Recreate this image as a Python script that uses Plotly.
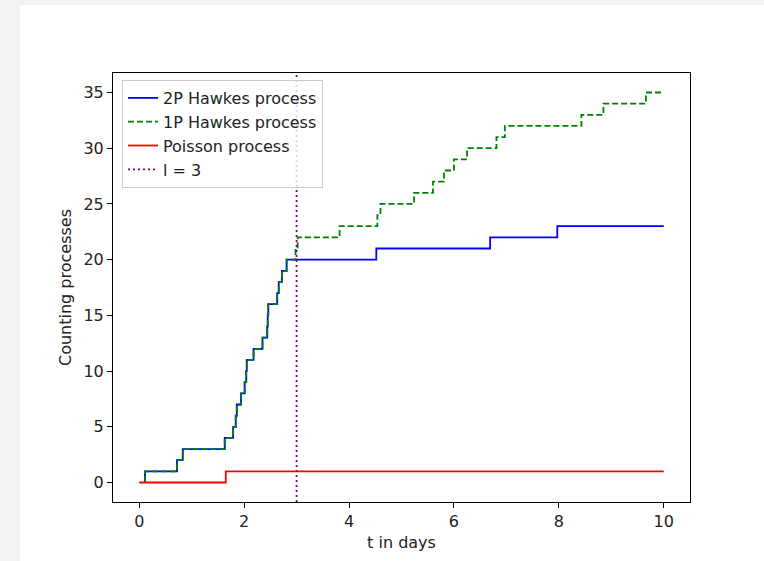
import plotly.graph_objects as go

# ---- data ----
t_end = 10.0
l_value = 3.0
hawkes2p_times = [0.11, 0.72, 0.83, 1.63, 1.79, 1.84, 1.86, 1.94, 2.01, 2.04, 2.05,
                  2.18, 2.35, 2.44, 2.45, 2.46, 2.63, 2.66, 2.72, 2.81,
                  4.52, 6.69, 7.97]
hawkes1p_times = [0.11, 0.72, 0.83, 1.63, 1.79, 1.84, 1.86, 1.94, 2.01, 2.04, 2.05,
                  2.18, 2.35, 2.44, 2.45, 2.46, 2.63, 2.66, 2.72, 2.81,
                  2.98, 3.02, 3.82, 4.54, 4.60, 5.24, 5.60, 5.81, 6.00, 6.25,
                  6.81, 6.97, 8.43, 8.85, 9.66]
poisson_times = [1.65]
x_ticks = [0, 2, 4, 6, 8, 10]
y_ticks = [0, 5, 10, 15, 20, 25, 30, 35]
x_range = [-0.5, 10.5]
y_range = [-1.75, 36.75]


def hawkes_steps(times, end):
    xs = [times[0]] + list(times) + [end]
    ys = [0] + list(range(1, len(times) + 1)) + [len(times)]
    return xs, ys


def poisson_steps(times, end):
    xs = [0.0] + list(times) + [end]
    ys = [0] + list(range(1, len(times) + 1)) + [len(times)]
    return xs, ys


x2, y2 = hawkes_steps(hawkes2p_times, t_end)
x1, y1 = hawkes_steps(hawkes1p_times, t_end)
xp, yp = poisson_steps(poisson_times, t_end)

FONT = "DejaVu Sans"
FS = 16
fig = go.Figure()
fig.add_trace(go.Scatter(x=x2, y=y2, mode="lines", line_shape="hv",
                         line=dict(color="#0000ff", width=1.8),
                         name="2P Hawkes process"))
fig.add_trace(go.Scatter(x=x1, y=y1, mode="lines", line_shape="hv",
                         line=dict(color="#008000", width=1.8, dash="6px,3px"),
                         name="1P Hawkes process"))
fig.add_trace(go.Scatter(x=xp, y=yp, mode="lines", line_shape="hv",
                         line=dict(color="#ff0000", width=1.8),
                         name="Poisson process"))
fig.add_trace(go.Scatter(x=[l_value, l_value], y=y_range, mode="lines",
                         line=dict(color="#800080", width=1.8, dash="2px,3px"),
                         name="l = 3", cliponaxis=True))

W, H = 764, 561
ml, mr, mt, mb = 113, 74, 73, 59
pw, ph = W - ml - mr, H - mt - mb


def px_to_paper_x(px):
    return (px - ml) / pw


def px_to_paper_y(py):
    return (H - mb - py) / ph


fig.add_shape(type="rect", xref="paper", yref="paper",
              x0=px_to_paper_x(20), x1=px_to_paper_x(W + 5),
              y0=px_to_paper_y(H + 5), y1=px_to_paper_y(5),
              fillcolor="white", line=dict(width=0), layer="below")

axis_common = dict(showgrid=False, zeroline=False, showline=True, linecolor="black",
                   linewidth=1, mirror=True, ticks="outside", ticklen=5,
                   tickcolor="black", tickwidth=1,
                   tickfont=dict(family=FONT, size=FS, color="#222222"))
fig.update_xaxes(range=x_range, tickvals=x_ticks, ticktext=[str(v) for v in x_ticks],
                 title=dict(text="t in days", font=dict(family=FONT, size=FS, color="#222222"),
                            standoff=6),
                 **axis_common)
fig.update_yaxes(range=y_range, tickvals=y_ticks, ticktext=[str(v) for v in y_ticks],
                 title=dict(text="Counting processes",
                            font=dict(family=FONT, size=FS, color="#222222"), standoff=7),
                 **axis_common)

fig.update_layout(
    width=W, height=H,
    margin=dict(l=ml, r=mr, t=mt, b=mb, pad=0),
    paper_bgcolor="#f2f2f2", plot_bgcolor="white",
    font=dict(family=FONT, size=FS, color="#222222"),
    showlegend=True,
    legend=dict(x=px_to_paper_x(122), y=px_to_paper_y(80), xanchor="left", yanchor="top",
                bgcolor="rgba(255,255,255,0.8)", bordercolor="#cccccc", borderwidth=1,
                font=dict(family=FONT, size=FS, color="#222222"),
                tracegroupgap=0, itemwidth=30),
)

fig.write_html("out.html")
